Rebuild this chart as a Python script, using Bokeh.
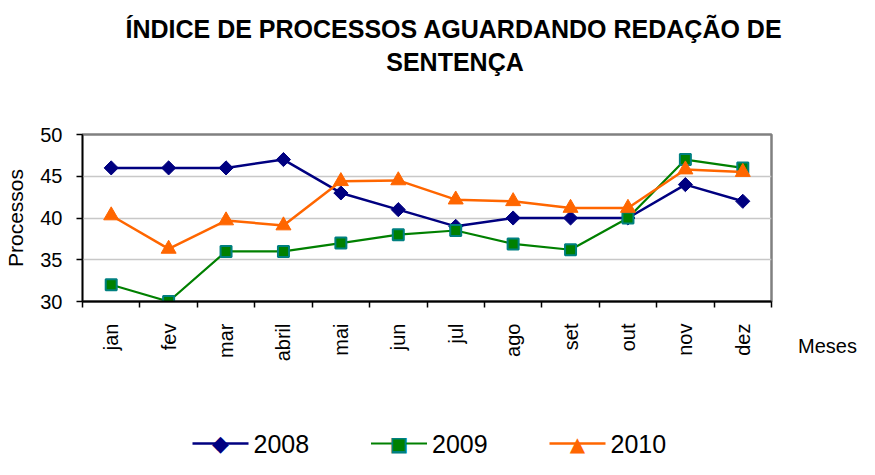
import math
import numpy as np
from bokeh.plotting import figure
from bokeh.models import Range1d, FixedTicker
from bokeh.core.properties import value
from bokeh.embed import file_html
from bokeh.resources import INLINE

months = ["jan", "fev", "mar", "abril", "mai", "jun", "jul", "ago", "set", "out", "nov", "dez"]
s2008 = [46, 46, 46, 47, 43, 41, 39, 40, 40, 40, 44, 42]
s2009 = [32, 30, 36, 36, 37, 38, 38.5, 36.9, 36.2, 40, 47, 46]
s2010 = [40.3, 36.3, 39.7, 39.1, 44.4, 44.5, 42.2, 42.0, 41.2, 41.2, 45.8, 45.5]
series_names = ["2008", "2009", "2010"]
y_ticks = [30, 35, 40, 45, 50]

FONT = "Liberation Sans"
SYM_FONT = "DejaVu Sans"

# canvas / frame geometry (pixels)
W, H = 859, 459
B_LEFT, B_RIGHT, B_TOP, B_BOTTOM = 82, 88, 134, 158
FW, FH = W - B_LEFT - B_RIGHT, H - B_TOP - B_BOTTOM

n = len(months)
xs = [i + 0.5 for i in range(n)]
Y0, Y1 = 30, 50

p = figure(width=W, height=H, output_backend="svg", toolbar_location=None,
           x_range=Range1d(0, n), y_range=Range1d(Y0, Y1),
           min_border_left=B_LEFT, min_border_right=B_RIGHT,
           min_border_top=B_TOP, min_border_bottom=B_BOTTOM)


def px_x(px):
    """canvas pixel x -> data x (for texts/legend placed outside the frame)"""
    return (px - B_LEFT) * n / FW


def px_y(py):
    """canvas pixel y -> data y"""
    return Y0 + (B_TOP + FH - py) * (Y1 - Y0) / FH


p.outline_line_color = "#808080"
p.outline_line_width = 2.5
p.background_fill_color = "white"
p.border_fill_color = "white"

# x axis
xa = p.xaxis[0]
xa.ticker = FixedTicker(ticks=xs, minor_ticks=list(range(n + 1)))
xa.major_label_overrides = {x: m for x, m in zip(xs, months)}
xa.major_label_orientation = math.pi / 2
xa.major_tick_line_color = None
xa.major_tick_out = 0
xa.major_tick_in = 0
xa.minor_tick_out = 6
xa.minor_tick_in = 0
xa.minor_tick_line_color = "black"
xa.minor_tick_line_width = 1.5
xa.axis_line_color = "black"
xa.axis_line_width = 2
xa.major_label_standoff = 16
xa.major_label_text_font = FONT
xa.major_label_text_font_size = "20px"
xa.major_label_text_color = "black"

# y axis
ya = p.yaxis[0]
ya.ticker = FixedTicker(ticks=y_ticks)
ya.minor_tick_line_color = None
ya.major_tick_out = 6
ya.major_tick_in = 0
ya.major_tick_line_color = "black"
ya.major_tick_line_width = 1.5
ya.axis_line_color = "black"
ya.axis_line_width = 1.5
ya.major_label_standoff = 14
ya.major_label_text_font = FONT
ya.major_label_text_font_size = "20px"
ya.major_label_text_color = "black"
ya.axis_label = "Processos"
ya.axis_label_text_font = FONT
ya.axis_label_text_font_size = "21px"
ya.axis_label_text_font_style = "normal"
ya.axis_label_text_color = "black"
ya.axis_label_standoff = 10

p.xgrid.grid_line_color = None
p.ygrid.grid_line_color = "#C8C8C8"
p.ygrid.grid_line_width = 1.5
p.ygrid.ticker = FixedTicker(ticks=y_ticks[1:-1])

# series styles
styles = [
    dict(color="#000080", lw=2.5, marker="square", angle=math.pi / 4, size=10,
         fill="#000080", edge="#000080", elw=1,
         sym=[("◆", "#000080", "22px")]),
    dict(color="#008000", lw=2.2, marker="square", angle=0, size=11,
         fill="#008000", edge="#008080", elw=2,
         sym=[("■", "#008080", "20px"), ("■", "#008000", "15px")]),
    dict(color="#FF6600", lw=2.5, marker="triangle", angle=0, size=15,
         fill="#FF6600", edge="#FF6600", elw=1,
         sym=[("▲", "#FF6600", "20px")]),
]

for data, st in zip([s2008, s2009, s2010], styles):
    p.line(xs, data, line_color=st["color"], line_width=st["lw"])
    p.scatter(xs, data, marker=st["marker"], angle=st["angle"], size=st["size"],
              fill_color=st["fill"], line_color=st["edge"], line_width=st["elw"])

# legend (drawn below the axis; overlay level so it is not clipped to the frame)
LEG_X0, LEG_STEP, LEG_Y, GLYPH_W = 192, 178.5, 443, 56
for k, (name, st) in enumerate(zip(series_names, styles)):
    gx0 = LEG_X0 + k * LEG_STEP
    p.line([px_x(gx0), px_x(gx0 + GLYPH_W)], [px_y(LEG_Y), px_y(LEG_Y)],
           line_color=st["color"], line_width=st["lw"], level="overlay")
    for ch, col, fs in st["sym"]:
        p.text([px_x(gx0 + GLYPH_W / 2)], [px_y(LEG_Y)], text=[ch],
               text_font=value(SYM_FONT), text_font_size=fs, text_align="center",
               text_baseline="middle", text_color=col, level="overlay")
    p.text([px_x(gx0 + GLYPH_W + 5)], [px_y(LEG_Y)], text=[name],
           text_font=value(FONT), text_font_size="25px", text_align="left",
           text_baseline="middle", text_color="black", level="overlay")

# title (two lines)
p.text([px_x(453.5), px_x(454.5)], [px_y(28), px_y(61)],
       text=["ÍNDICE DE PROCESSOS AGUARDANDO REDAÇÃO DE", "SENTENÇA"],
       text_font=value(FONT), text_font_style="bold", text_font_size="25px",
       text_align="center", text_baseline="middle", text_color="black", level="overlay")

# x-axis title placed at the right, as in the reference
p.text([px_x(827)], [px_y(345)], text=["Meses"], text_font=value(FONT),
       text_font_size="20px", text_align="center", text_baseline="middle",
       text_color="black", level="overlay")

open("out.html", "w").write(file_html(p, INLINE))
